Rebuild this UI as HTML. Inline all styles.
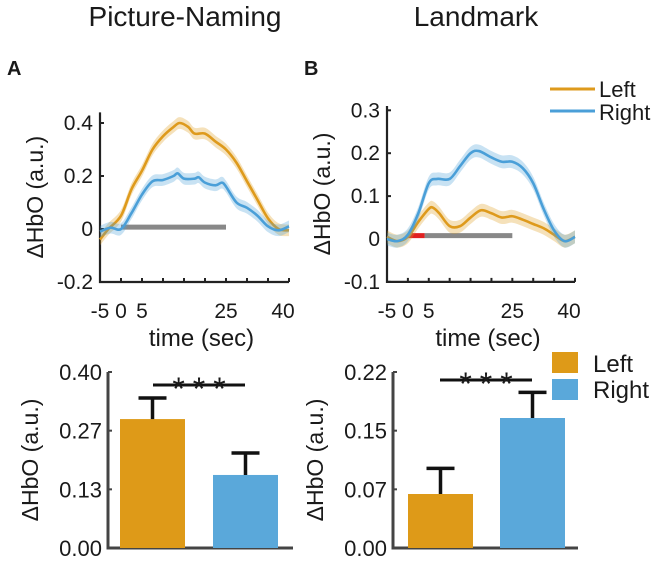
<!DOCTYPE html>
<html><head><meta charset="utf-8"><style>
html,body{margin:0;padding:0;background:#fff;}
svg text{font-family:"Liberation Sans",Arial,sans-serif;fill:#1a1a1a;}
</style></head><body>
<svg id="fig" width="661" height="562" viewBox="0 0 661 562" xmlns="http://www.w3.org/2000/svg">
<text x="185" y="26" font-size="28" text-anchor="middle">Picture-Naming</text>
<text x="476" y="26" font-size="28" text-anchor="middle">Landmark</text>
<text x="7" y="75" font-size="20" font-weight="bold">A</text>
<text x="304" y="75" font-size="20" font-weight="bold">B</text>
<g id="gA"></g>
<g id="gB"></g>
<g id="bA"></g>
<g id="bB"></g>
<g>
<line x1="550" y1="89" x2="595" y2="89" stroke="#DE9A1C" stroke-width="3"/>
<text x="599" y="97" font-size="22">Left</text>
<line x1="550" y1="111" x2="595" y2="111" stroke="#4A9FD8" stroke-width="3"/>
<text x="599" y="120" font-size="22">Right</text>
</g>
<g>
<rect x="552" y="352" width="26" height="21" fill="#DE9A18"/>
<text x="593" y="372" font-size="24">Left</text>
<rect x="552" y="379" width="26" height="21" fill="#5AA8DA"/>
<text x="593" y="398" font-size="24">Right</text>
</g>
</svg>
<script>
const timesA=[-5,-3,0,2.5,5,7.5,10,12.5,14,16,17.5,20,22.5,25,27.5,30,32.5,35,37.5,40];
const leftA=[-0.04,0,0.05,0.15,0.22,0.3,0.35,0.385,0.4,0.385,0.36,0.36,0.33,0.3,0.25,0.18,0.11,0.04,0.0,-0.005];
const timesA2=[-5,-2.5,0,2.5,5,7.5,10,12.5,13.5,15,17.5,18.5,20,22.5,24,25,27.5,30,32.5,35,37.5,40];
const rightA=[-0.01,0.005,0.0,0.06,0.13,0.18,0.185,0.2,0.21,0.19,0.19,0.195,0.175,0.165,0.175,0.16,0.1,0.08,0.05,0.01,-0.005,0.01];
const timesB=[-5,-2.5,0,2.5,5,7,10,12.5,15,17,20,22.5,25,27.5,30,32.5,35,37.5,40];
const rightB=[0,-0.005,0.01,0.06,0.13,0.14,0.14,0.17,0.2,0.205,0.19,0.18,0.18,0.165,0.13,0.07,0.02,-0.005,0.005];
const timesB2=[-5,-2.5,0,2.5,5,6,7.5,10,12.5,15,17.5,20,22.5,25,27.5,30,32.5,35,37.5,40];
const leftB=[0.005,-0.005,0.005,0.04,0.07,0.073,0.06,0.03,0.03,0.05,0.067,0.06,0.05,0.053,0.045,0.035,0.025,0.01,-0.005,0.005];
const xTicks=[-5,0,5,25,40];
const yTicksA=[-0.2,0,0.2,0.4];
const yTicksB=[-0.1,0,0.1,0.2,0.3];
const barCats=['Left','Right'];
const barA=[0.293,0.166];
const errA=[0.048,0.05];
const barB=[0.0675,0.1625];
const errB=[0.032,0.032];
const barTicksA=['0.00','0.13','0.27','0.40'];
const barTicksB=['0.00','0.07','0.15','0.22'];

const NS='http://www.w3.org/2000/svg';
function mk(p,tag,at){const e=document.createElementNS(NS,tag);for(const k in at)e.setAttribute(k,at[k]);p.appendChild(e);return e;}
function smooth(pts){let d='M'+pts[0][0]+','+pts[0][1];for(let i=0;i<pts.length-1;i++){const p0=pts[i-1]||pts[i],p1=pts[i],p2=pts[i+1],p3=pts[i+2]||p2;const c1=[p1[0]+(p2[0]-p0[0])/6,p1[1]+(p2[1]-p0[1])/6],c2=[p2[0]-(p3[0]-p1[0])/6,p2[1]-(p3[1]-p1[1])/6];d+='C'+c1[0]+','+c1[1]+' '+c2[0]+','+c2[1]+' '+p2[0]+','+p2[1];}return d;}

function timecourse(g,cfg){
  const X=t=>cfg.x0+(t+5)/45*(cfg.x1-cfg.x0);
  const Y=v=>cfg.yZero-v*cfg.pxPer;
  const ax=mk(g,'path',{d:`M${cfg.x0},${Y(cfg.ymax)}V${Y(cfg.ymin)}H${cfg.x1}`,fill:'none',stroke:'#222','stroke-width':2.2});
  
  
  for(let t=-5;t<=40;t+=5){const tk=mk(g,'line',{x1:X(t),x2:X(t),y1:Y(cfg.ymin),y2:Y(cfg.ymin)-4,stroke:'#222','stroke-width':2});}
  xTicks.forEach(t=>{const tx=mk(g,'text',{x:X(t)-(t==40?6:0),y:318,'font-size':21,'text-anchor':'middle'});tx.textContent=String(t);});
  cfg.yt.forEach(v=>{const tk=mk(g,'line',{x1:cfg.x0,x2:cfg.x0+4,y1:Y(v),y2:Y(v),stroke:'#222','stroke-width':2});
    const tx=mk(g,'text',{x:cfg.x0-7,y:Y(v)+7,'font-size':21,'text-anchor':'end'});tx.textContent=v==0?'0':String(v);});
  const xl=mk(g,'text',{x:(cfg.x0+cfg.x1)/2+7,y:346,'font-size':24,'text-anchor':'middle'});xl.textContent='time (sec)';
  const yl=mk(g,'text',{x:0,y:0,'font-size':23,'text-anchor':'middle',transform:`translate(${cfg.ylx},${Y((cfg.ymax+cfg.ymin)/2)}) rotate(-90)`});yl.textContent='ΔHbO (a.u.)';
  cfg.marks.forEach(m=>{const b=mk(g,'line',{x1:X(m[0]),x2:X(m[1]),y1:Y(cfg.barY),y2:Y(cfg.barY),stroke:m[2],'stroke-width':5});});
  cfg.series.forEach(s=>{
    const up=s.t.map((t,i)=>[X(t),Y(s.v[i]+cfg.band)]),dn=s.t.map((t,i)=>[X(t),Y(s.v[i]-cfg.band)]).reverse();
    const band=mk(g,'path',{d:smooth(up)+'L'+smooth(dn).slice(1)+'Z',fill:s.c,'fill-opacity':0.3,stroke:'none'});
    
    const ln=mk(g,'path',{d:smooth(s.t.map((t,i)=>[X(t),Y(s.v[i])])),fill:'none',stroke:s.c,'stroke-width':2.6});
    
  });
}
timecourse(document.getElementById('gA'),{x0:100,x1:289,yZero:229,pxPer:265,ymin:-0.2,ymax:0.44,yt:yTicksA,ylx:43,band:0.022,barY:0.007,
  marks:[[0,25,'#888']],
  series:[{name:'left',t:timesA,v:leftA,c:'#DE9A1C'},{name:'right',t:timesA2,v:rightA,c:'#4A9FD8'}]});
timecourse(document.getElementById('gB'),{x0:387,x1:575,yZero:239,pxPer:429,ymin:-0.1,ymax:0.31,yt:yTicksB,ylx:330,band:0.015,barY:0.008,
  marks:[[4,25,'#888'],[0,4,'#E02020']],
  series:[{name:'left',t:timesB2,v:leftB,c:'#DE9A1C'},{name:'right',t:timesB,v:rightB,c:'#4A9FD8'}]});

function bars(g,cfg){
  const Y=v=>548-v/cfg.max*176;
  const ax=mk(g,'path',{d:`M${cfg.x0},372V548H${cfg.x1}`,fill:'none',stroke:'#444','stroke-width':3});
  
  cfg.ticks.forEach((t,i)=>{const y=548-i*176/3;mk(g,'line',{x1:cfg.x0,x2:cfg.x0+4,y1:y,y2:y,stroke:'#444','stroke-width':2});
    const tx=mk(g,'text',{x:cfg.x0-6,y:y+8,'font-size':22,'text-anchor':'end',fill:'#333'});tx.textContent=t;});
  const cols=['#DE9A18','#5AA8DA'];
  cfg.vals.forEach((v,i)=>{const bx=cfg.bx[i];
    const r=mk(g,'rect',{x:bx,y:Y(v),width:65,height:548-Y(v),fill:cols[i]});
    
    const cx=bx+32.5,et=Y(v+cfg.err[i]);
    const e=mk(g,'path',{d:`M${cx},${Y(v)}V${et}M${cx-14},${et}H${cx+14}`,stroke:'#111','stroke-width':3.5,fill:'none'});
    });
  const s=mk(g,'line',{x1:cfg.sig[0],x2:cfg.sig[1],y1:cfg.sig[2],y2:cfg.sig[2],stroke:'#111','stroke-width':3});
  
  const st=mk(g,'text',{x:(cfg.sig[0]+cfg.sig[1])/2+4,y:cfg.sig[2]+15,'font-size':32,'text-anchor':'middle','letter-spacing':'8'});
  st.textContent='***';
  const yl=mk(g,'text',{x:0,y:0,'font-size':23,'text-anchor':'middle',transform:`translate(${cfg.ylx},460) rotate(-90)`});yl.textContent='ΔHbO (a.u.)';
}
bars(document.getElementById('bA'),{x0:108,x1:293,max:0.4,ticks:barTicksA,vals:barA,err:errA,bx:[120,213],sig:[153,245,385],ylx:38});
bars(document.getElementById('bB'),{x0:393,x1:578,max:0.22,ticks:barTicksB,vals:barB,err:errB,bx:[408,500],sig:[440,532,380],ylx:323});
</script>
</body></html>
